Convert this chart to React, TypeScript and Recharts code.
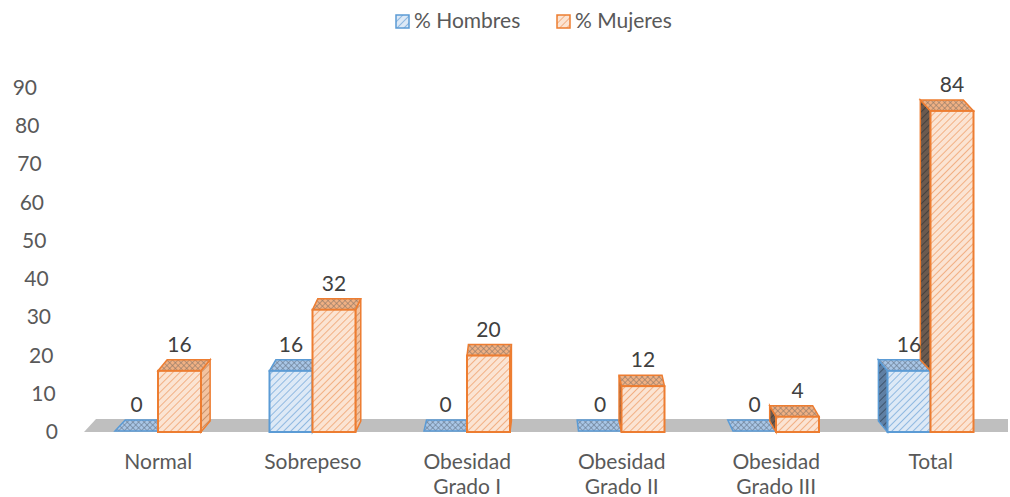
import React from "react";
import { BarChart, Bar, XAxis, YAxis, LabelList, CartesianGrid } from "recharts";

const categories = ["Normal", "Sobrepeso", "Obesidad Grado I", "Obesidad Grado II", "Obesidad Grado III", "Total"];
const hombres = [0, 16, 0, 0, 0, 16];
const mujeres = [16, 32, 20, 12, 4, 84];
const yTicks = [0, 10, 20, 30, 40, 50, 60, 70, 80, 90];

const data = categories.map((c, i) => ({ name: c, h: hombres[i], m: mujeres[i] }));

const FONT = "Lato, 'Open Sans', sans-serif";
const TEXT = "#595959";
const FS = 21;
const CENTER_X = 545;

function make3D(front: string, top: string, sideLight: string, sideDark: string, stroke: string, clipByH: boolean) {
  return (props: any) => {
    const { x, y, width, height, payload, value } = props;
    const v = Array.isArray(value) ? value[1] - value[0] : value;
    const cx = x + width / 2;
    const dx = (CENTER_X - cx) / 40;
    const dy = -11;
    const base = y + height;
    const topPoly = `${x},${y} ${x + width},${y} ${x + width + dx},${y + dy} ${x + dx},${y + dy}`;
    let sidePoly = "";
    let sideFill = sideLight;
    if (height > 2) {
      if (dx > 0) {
        sidePoly = `${x + width},${y} ${x + width + dx},${y + dy} ${x + width + dx},${base + dy} ${x + width},${base}`;
      } else {
        sideFill = sideDark;
        let sb = base;
        if (clipByH && v > 0) {
          const ppu = height / v;
          sb = base - payload.h * ppu;
        }
        sidePoly = `${x},${y} ${x + dx},${y + dy} ${x + dx},${sb + dy} ${x},${sb}`;
      }
    }
    return (
      <g>
        {sidePoly && <polygon points={sidePoly} fill={sideFill} stroke={stroke} strokeWidth={1.5} />}
        <polygon points={topPoly} fill={top} stroke={stroke} strokeWidth={1.5} />
        {height > 2 && <rect x={x} y={y} width={width} height={height} fill={front} stroke={stroke} strokeWidth={2} />}
      </g>
    );
  };
}

const HShape = make3D("url(#hFront)", "url(#hTop)", "url(#hSideL)", "url(#hSideD)", "#5b9bd5", false);
const MShape = make3D("url(#mFront)", "url(#mTop)", "url(#mSideL)", "url(#mSideD)", "#ed7d31", true);

const XTick = (props: any) => {
  const { x, y, payload } = props;
  const words: string[] = payload.value.startsWith("Obesidad")
    ? ["Obesidad", payload.value.replace("Obesidad ", "")]
    : [payload.value];
  return (
    <text x={x} y={y + 29} textAnchor="middle" fill={TEXT} fontSize={FS} fontFamily={FONT}>
      {words.map((w, i) => (
        <tspan key={i} x={x} dy={i === 0 ? 0 : 25}>{w}</tspan>
      ))}
    </text>
  );
};

const YTick = (props: any) => {
  const { y, payload } = props;
  const right = 58 - (payload.value * 21) / 90;
  return (
    <text x={right} y={y + 7} textAnchor="end" fill={TEXT} fontSize={FS} fontFamily={FONT}>
      {payload.value}
    </text>
  );
};

const FloorLine = (props: any) => {
  const { x2, y1, y, height } = props;
  if (Math.abs(y1 - (y + height)) > 1) return <g />;
  const left = 84;
  const pts = `${left},${y1} ${left + 12},${y1 - 13} ${x2},${y1 - 13} ${x2},${y1}`;
  return <polygon points={pts} fill="#bfbfbf" />;
};

const Pattern = ({ id, bg, line, w }: { id: string; bg: string; line: string; w: number }) => (
  <pattern id={id} width={5} height={5} patternUnits="userSpaceOnUse" patternTransform="rotate(45)">
    <rect width={5} height={5} fill={bg} />
    <line x1={0} y1={0} x2={0} y2={5} stroke={line} strokeWidth={w} />
  </pattern>
);

const Cross = ({ id, bg, line }: { id: string; bg: string; line: string }) => (
  <pattern id={id} width={4} height={4} patternUnits="userSpaceOnUse" patternTransform="rotate(45)">
    <rect width={4} height={4} fill={bg} />
    <line x1={0} y1={0} x2={0} y2={4} stroke={line} strokeWidth={1.2} />
    <line x1={0} y1={0} x2={4} y2={0} stroke={line} strokeWidth={1.2} />
  </pattern>
);

export default function App() {
  return (
    <div style={{ position: "absolute", left: 0, top: 0, width: 1010, height: 497, background: "#fff" }}>
      <BarChart
        width={1010}
        height={497}
        data={data}
        margin={{ top: 88, right: 2, bottom: 0, left: 0 }}
        barGap={0}
        barCategoryGap="22%"
      >
        <defs>
          <Pattern id="hFront" bg="#dde9f6" line="#6fa5d8" w={1.4} />
          <Cross id="hTop" bg="#a9c6e6" line="#66788c" />
          <Pattern id="hSideL" bg="#b7d0ea" line="#5b8fc4" w={1.5} />
          <Pattern id="hSideD" bg="#5f7fa3" line="#34495f" w={1.6} />
          <Pattern id="mFront" bg="#fbe4d3" line="#ef9a62" w={1.4} />
          <Cross id="mTop" bg="#f0b083" line="#8e7868" />
          <Pattern id="mSideL" bg="#f3c3a0" line="#b9825c" w={1.5} />
          <Pattern id="mSideD" bg="#6b5a4f" line="#3a3a3a" w={1.6} />
        </defs>
        <CartesianGrid vertical={false} horizontal={<FloorLine />} />
        <XAxis dataKey="name" axisLine={false} tickLine={false} tick={<XTick />} interval={0} height={65} />
        <YAxis
          domain={[0, 90]}
          ticks={yTicks}
          axisLine={false}
          tickLine={false}
          tick={<YTick />}
          width={81}
          interval={0}
        />
        <Bar dataKey="h" shape={HShape} isAnimationActive={false} barSize={43} minPointSize={1}>
          <LabelList dataKey="h" position="top" offset={19} fill="#404040" fontSize={FS} fontFamily={FONT} />
        </Bar>
        <Bar dataKey="m" shape={MShape} isAnimationActive={false} barSize={43}>
          <LabelList dataKey="m" position="top" offset={19} fill="#404040" fontSize={FS} fontFamily={FONT} />
        </Bar>
      </BarChart>
      <svg width={1010} height={40} style={{ position: "absolute", left: 0, top: 0, pointerEvents: "none" }}>
        <rect x={396} y={15} width={13} height={13} fill="url(#hFront)" stroke="#5b9bd5" strokeWidth={1.5} />
        <text x={414} y={28} fill={TEXT} fontSize={FS} fontFamily={FONT}>% Hombres</text>
        <rect x={557} y={15} width={13} height={13} fill="url(#mFront)" stroke="#ed7d31" strokeWidth={1.5} />
        <text x={575} y={28} fill={TEXT} fontSize={FS} fontFamily={FONT}>% Mujeres</text>
      </svg>
    </div>
  );
}
